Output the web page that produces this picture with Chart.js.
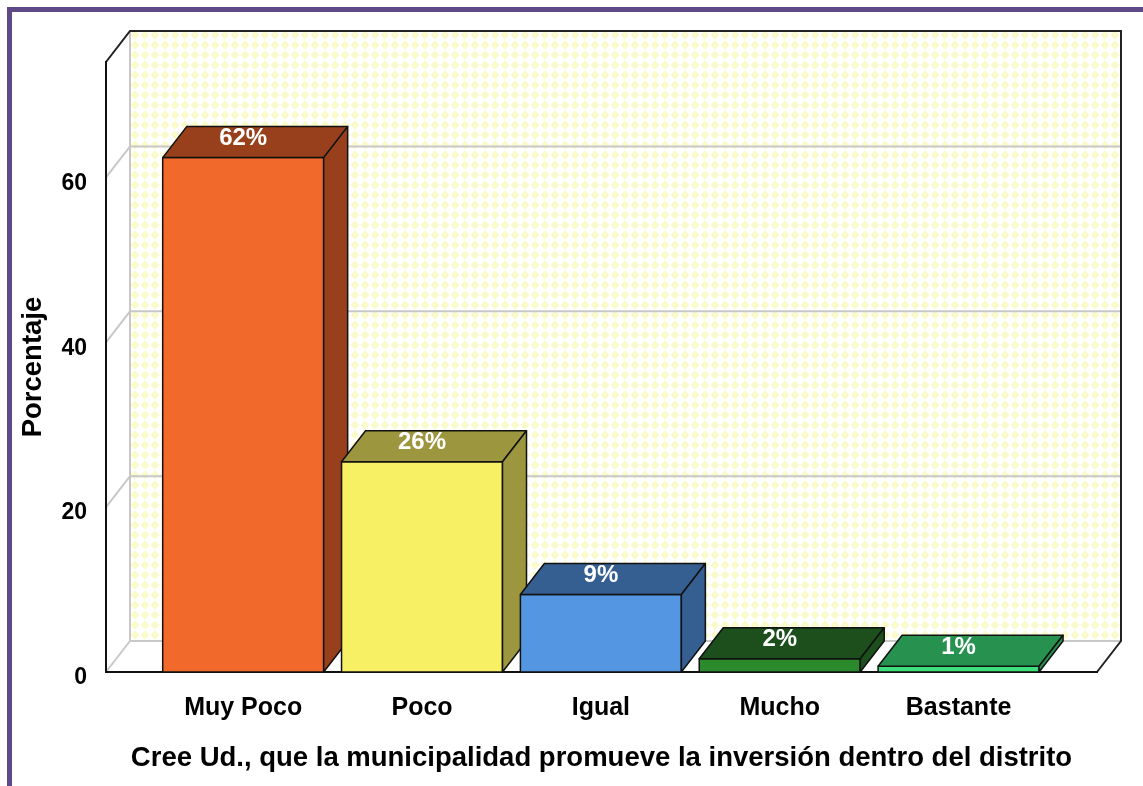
<!DOCTYPE html>
<html>
<head>
<meta charset="utf-8">
<script src="https://cdn.jsdelivr.net/npm/chart.js@4.4.1/dist/chart.umd.min.js"></script>
<style>
  html, body { margin: 0; padding: 0; background: #fff; overflow: hidden; }
  #marco { position: absolute; left: 7px; top: 7px; width: 1200px; height: 900px;
           border-left: 5px solid #5e4a86; border-top: 5px solid #5e4a86; }
  #grafico { position: absolute; left: 0; top: 0; }
</style>
</head>
<body>
<div id="marco"></div>
<canvas id="grafico" width="1143" height="786"></canvas>
<script>
// datos
const categorias = ["Muy Poco", "Poco", "Igual", "Mucho", "Bastante"];
const porcentajes = [62.4, 25.5, 9.4, 1.6, 0.7];
const ticksY = [0, 20, 40, 60];

const colorFrente = ["#f26a2b", "#f8f064", "#5596e3", "#2b8a2b", "#3ddf7a"];
const colorOscuro = ["#97401b", "#9c963f", "#365f91", "#1c4f1c", "#27924f"];

const FUENTE = '"Liberation Sans", Arial, sans-serif';
const PX = 24, PY = -31; // profundidad 3D

// patron amarillo de la pared del fondo
function crearPatron(ctx) {
    const c = document.createElement("canvas");
    c.width = 10; c.height = 10;
    const g = c.getContext("2d");
    g.fillStyle = "#ffffff";
    g.fillRect(0, 0, 10, 10);
    g.fillStyle = "#fafacb";
    g.beginPath();
    g.moveTo(5, 0.6); g.lineTo(9.4, 5); g.lineTo(5, 9.4); g.lineTo(0.6, 5);
    g.closePath();
    g.fill();
    return ctx.createPattern(c, "repeat");
}

function poli(ctx, pts, fill, stroke, lw) {
    ctx.beginPath();
    ctx.moveTo(pts[0][0], pts[0][1]);
    for (let i = 1; i < pts.length; i++) ctx.lineTo(pts[i][0], pts[i][1]);
    ctx.closePath();
    if (fill) { ctx.fillStyle = fill; ctx.fill(); }
    if (stroke) { ctx.strokeStyle = stroke; ctx.lineWidth = lw || 1; ctx.stroke(); }
}

const caja3d = {
    id: "caja3d",
    beforeDraw(chart) {
        const { ctx, chartArea: a, scales } = chart;
        const L = a.left, R = a.right, T = a.top, B = a.bottom;
        ctx.save();
        // pared del fondo
        ctx.fillStyle = crearPatron(ctx);
        ctx.fillRect(L + PX, T + PY, R - L, B - T);
        // pared izquierda y piso
        poli(ctx, [[L, T], [L + PX, T + PY], [L + PX, B + PY], [L, B]], "#ffffff");
        poli(ctx, [[L, B], [L + PX, B + PY], [R + PX, B + PY], [R, B]], "#ffffff");
        // lineas de cuadricula
        ctx.strokeStyle = "#c8c8c8";
        ctx.lineWidth = 2;
        ticksY.forEach(v => {
            const py = scales.y.getPixelForValue(v);
            ctx.beginPath();
            ctx.moveTo(L, py);
            ctx.lineTo(L + PX, py + PY);
            ctx.lineTo(R + PX, py + PY);
            ctx.stroke();
        });
        ctx.beginPath();
        ctx.moveTo(L + PX, T + PY);
        ctx.lineTo(L + PX, B + PY);
        ctx.stroke();
        // borde
        ctx.strokeStyle = "#222";
        ctx.lineWidth = 2;
        ctx.beginPath();
        ctx.moveTo(L, T);
        ctx.lineTo(L + PX, T + PY);
        ctx.lineTo(R + PX, T + PY);
        ctx.lineTo(R + PX, B + PY);
        ctx.lineTo(R, B);
        ctx.stroke();
        ctx.restore();
    },
    afterDatasetsDraw(chart) {
        const { ctx } = chart;
        const meta = chart.getDatasetMeta(0);
        ctx.save();
        ctx.lineJoin = "round";
        meta.data.forEach((bar, i) => {
            const p = bar.getProps(["x", "y", "base", "width"], true);
            const izq = p.x - p.width / 2, der = p.x + p.width / 2;
            poli(ctx, [[izq, p.y], [der, p.y], [der, p.base], [izq, p.base]], colorFrente[i], "#111", 1.5);
            poli(ctx, [[izq, p.y], [izq + PX, p.y + PY], [der + PX, p.y + PY], [der, p.y]], colorOscuro[i], "#111", 1.5);
            poli(ctx, [[der, p.y], [der + PX, p.y + PY], [der + PX, p.base + PY], [der, p.base]], colorOscuro[i], "#111", 1.5);
            ctx.fillStyle = "#ffffff";
            ctx.font = "bold 24px " + FUENTE;
            ctx.textAlign = "center";
            ctx.textBaseline = "middle";
            ctx.fillText(Math.round(porcentajes[i]) + "%", p.x, p.y - 19);
        });
        ctx.restore();
    }
};

new Chart(document.getElementById("grafico"), {
    type: "bar",
    data: {
        datasets: [{
            data: porcentajes.map((v, i) => ({ x: i, y: v })),
            backgroundColor: colorFrente,
            borderColor: "#111",
            borderWidth: 1.5,
            categoryPercentage: 0.9,
            barPercentage: 1.0
        }]
    },
    options: {
        responsive: false,
        animation: false,
        devicePixelRatio: 1,
        layout: { padding: { top: 62, right: 46, left: 0, bottom: 0 } },
        plugins: { legend: { display: false }, tooltip: { enabled: false } },
        scales: {
            x: {
                type: "linear",
                offset: false,
                min: -0.767,
                max: 4.774,
                afterFit: s => { s.height = 114; },
                afterBuildTicks: s => { s.ticks = categorias.map((c, i) => ({ value: i })); },
                grid: { display: false, offset: false },
                border: { display: true, color: "#111", width: 2 },
                ticks: {
                    includeBounds: false,
                    autoSkip: false,
                    maxRotation: 0,
                    padding: 13,
                    color: "#000",
                    font: { family: FUENTE, size: 25, weight: "bold" },
                    callback: v => categorias[v]
                },
                title: {
                    display: true,
                    text: "Cree Ud., que la municipalidad promueve la inversión dentro del distrito",
                    color: "#000",
                    font: { family: FUENTE, size: 27.5, weight: "bold" },
                    padding: { top: 0, bottom: 11 }
                }
            },
            y: {
                min: 0,
                max: 74,
                afterFit: s => { s.width = 106; },
                afterBuildTicks: s => { s.ticks = ticksY.map(v => ({ value: v })); },
                grid: { display: false },
                border: { display: true, color: "#111", width: 2 },
                ticks: {
                    includeBounds: false,
                    padding: 11,
                    labelOffset: 6,
                    color: "#000",
                    font: { family: FUENTE, size: 23, weight: "bold" }
                },
                title: {
                    display: true,
                    text: "Porcentaje",
                    color: "#000",
                    font: { family: FUENTE, size: 27.5, weight: "bold" },
                    padding: { top: 17, bottom: 0 }
                }
            }
        }
    },
    plugins: [caja3d]
});
</script>
</body>
</html>
